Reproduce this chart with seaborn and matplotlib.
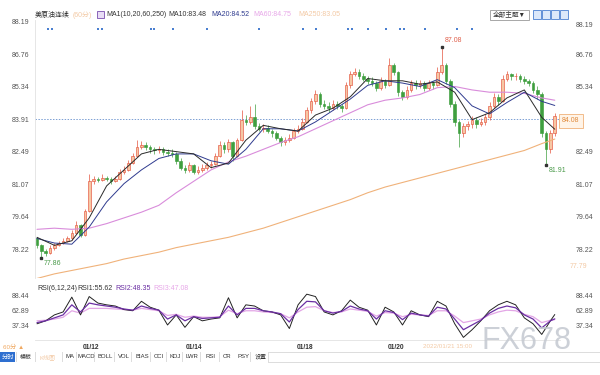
import numpy as np
import pandas as pd
import matplotlib
matplotlib.use("Agg")
import matplotlib.pyplot as plt
from matplotlib.patches import Rectangle
import seaborn as sns

# ---------------- data ----------------
opens = [78.70, 78.40, 78.15, 78.05, 78.30, 78.40, 78.50, 78.60, 78.70, 78.95,
         79.30, 78.85, 79.90, 81.20, 81.30, 81.25, 81.35, 81.30, 81.20, 81.30,
         81.60, 81.70, 82.00, 82.30, 82.70, 82.80, 82.70, 82.60, 82.55, 82.60,
         82.50, 82.45, 82.40, 82.10, 81.80, 81.70, 81.90, 81.60, 81.70, 81.80,
         81.90, 81.95, 82.30, 82.80, 82.60, 82.90, 82.30, 83.00, 83.90, 83.80,
         84.00, 83.60, 83.50, 83.55, 83.40, 83.30, 83.10, 82.90, 83.00, 83.10,
         83.40, 83.50, 83.80, 84.30, 84.70, 85.00, 84.60, 84.50, 84.40, 84.60,
         84.50, 84.40, 85.40, 85.90, 86.00, 85.80, 85.70, 85.60, 85.50, 85.30,
         85.60, 85.40, 86.30, 86.00, 85.10, 84.90, 85.20, 85.50, 85.40, 85.50,
         85.30, 85.50, 85.40, 86.00, 86.30, 85.60, 84.60, 83.80, 83.30, 83.60,
         83.70, 83.90, 83.70, 83.80, 84.00, 84.50, 84.90, 84.70, 85.70, 85.90,
         85.80, 85.80, 85.70, 85.60, 85.50, 85.20, 85.00, 83.30, 82.60, 83.30]
closes = [78.40, 78.15, 78.05, 78.30, 78.40, 78.50, 78.60, 78.70, 78.95, 79.30,
          78.85, 79.90, 81.20, 81.30, 81.25, 81.35, 81.30, 81.20, 81.30, 81.60,
          81.70, 82.00, 82.30, 82.70, 82.80, 82.70, 82.60, 82.55, 82.60, 82.50,
          82.45, 82.40, 82.10, 81.80, 81.70, 81.90, 81.60, 81.70, 81.80, 81.90,
          81.95, 82.30, 82.80, 82.60, 82.90, 82.30, 83.00, 83.90, 83.80, 84.00,
          83.60, 83.50, 83.55, 83.40, 83.30, 83.10, 82.90, 83.00, 83.10, 83.40,
          83.50, 83.80, 84.30, 84.70, 85.00, 84.60, 84.50, 84.40, 84.60, 84.50,
          84.40, 85.40, 85.90, 86.00, 85.80, 85.70, 85.60, 85.50, 85.30, 85.60,
          85.40, 86.30, 86.00, 85.10, 84.90, 85.20, 85.50, 85.40, 85.50, 85.30,
          85.50, 85.40, 86.00, 86.30, 85.60, 84.60, 83.80, 83.30, 83.60, 83.70,
          83.90, 83.70, 83.80, 84.00, 84.50, 84.90, 84.70, 85.70, 85.90, 85.80,
          85.80, 85.70, 85.60, 85.50, 85.20, 85.00, 83.30, 82.60, 83.30, 84.05]
highs = [78.75, 78.45, 78.25, 78.40, 78.50, 78.60, 78.70, 78.80, 79.05, 79.45,
         79.35, 80.00, 81.50, 81.45, 81.40, 81.50, 81.45, 81.40, 81.45, 81.75,
         81.85, 82.15, 82.45, 83.00, 82.95, 82.90, 82.80, 82.70, 82.75, 82.70,
         82.60, 82.60, 82.50, 82.20, 81.90, 82.05, 81.95, 81.85, 81.95, 82.05,
         82.10, 82.45, 82.95, 82.90, 83.05, 82.95, 83.10, 84.30, 84.10, 84.50,
         84.60, 83.75, 83.70, 83.65, 83.50, 83.40, 83.20, 83.15, 83.25, 83.55,
         83.65, 83.95, 84.45, 84.85, 85.20, 85.10, 84.75, 84.65, 84.75, 84.70,
         84.60, 85.55, 86.05, 86.15, 86.10, 85.95, 85.80, 85.75, 85.60, 85.75,
         85.70, 86.60, 86.40, 86.05, 85.20, 85.35, 85.65, 85.65, 85.65, 85.60,
         85.65, 85.60, 86.20, 87.08, 86.40, 85.70, 84.70, 83.90, 83.75, 83.85,
         84.05, 84.00, 83.95, 84.15, 84.65, 85.05, 85.00, 85.85, 86.05, 85.95,
         85.95, 85.90, 85.80, 85.70, 85.60, 85.35, 85.10, 83.40, 83.45, 84.20]
lows = [78.30, 77.86, 77.95, 78.00, 78.20, 78.35, 78.45, 78.55, 78.65, 78.90,
        78.75, 78.80, 79.85, 81.10, 81.15, 81.20, 81.20, 81.10, 81.15, 81.25,
        81.50, 81.65, 81.95, 82.25, 82.60, 82.55, 82.45, 82.40, 82.45, 82.35,
        82.30, 82.25, 81.95, 81.70, 81.55, 81.60, 81.50, 81.50, 81.60, 81.70,
        81.80, 81.90, 82.25, 82.45, 82.50, 82.10, 82.25, 82.95, 83.65, 83.70,
        83.50, 83.40, 83.35, 83.30, 83.15, 83.00, 82.75, 82.80, 82.90, 83.05,
        83.30, 83.45, 83.75, 84.20, 84.60, 84.45, 84.35, 84.25, 84.30, 84.35,
        84.25, 84.35, 85.30, 85.80, 85.70, 85.60, 85.45, 85.35, 85.15, 85.20,
        85.30, 85.35, 85.85, 84.95, 84.75, 84.80, 85.10, 85.25, 85.30, 85.15,
        85.20, 85.25, 85.35, 85.90, 85.45, 84.45, 83.60, 82.70, 83.15, 83.45,
        83.55, 83.55, 83.60, 83.65, 83.90, 84.40, 84.55, 84.65, 85.60, 85.65,
        85.65, 85.55, 85.45, 85.35, 85.05, 84.80, 83.15, 81.91, 82.45, 83.20]

ma_bar = [0, 4, 8, 12, 16, 20, 24, 28, 32, 36, 40, 44, 48, 52, 56, 60,
          64, 68, 72, 76, 80, 84, 88, 92, 96, 100, 104, 108, 112, 116, 119]
ma10 = [78.75, 78.40, 78.60, 79.60, 81.00, 81.70, 82.40, 82.60, 82.50, 82.40,
        81.80, 82.00, 83.00, 83.65, 83.50, 83.40, 84.10, 84.40, 84.90, 85.70,
        85.60, 85.60, 85.45, 85.55, 85.10, 83.90, 84.20, 84.85, 85.20, 84.00, 83.48]
ma20 = [78.70, 78.50, 78.45, 79.20, 80.30, 81.10, 81.70, 82.20, 82.40, 82.40,
        82.10, 81.95, 82.60, 83.50, 83.50, 83.40, 83.80, 84.30, 84.80, 85.40,
        85.60, 85.50, 85.35, 85.65, 85.30, 84.50, 84.15, 84.65, 85.10, 84.70, 84.52]
ma60 = [79.10, 79.15, 79.10, 79.15, 79.35, 79.60, 79.85, 80.15, 80.70, 81.20,
        81.70, 82.05, 82.30, 82.60, 82.90, 83.15, 83.50, 83.85, 84.20, 84.55,
        84.75, 84.85, 85.00, 85.30, 85.35, 85.20, 85.10, 85.10, 85.05, 84.85, 84.75]
ma250 = [76.95, 77.15, 77.30, 77.45, 77.60, 77.80, 77.95, 78.10, 78.30, 78.45,
         78.60, 78.75, 78.95, 79.15, 79.40, 79.65, 79.90, 80.15, 80.40, 80.70,
         80.95, 81.15, 81.35, 81.55, 81.75, 81.95, 82.15, 82.35, 82.55, 82.85, 83.05]

rsi_bar = list(range(0, 120, 2)) + [119]
rsi1 = [40, 45, 55, 60, 85, 55, 86, 75, 72, 70, 64, 62, 78, 68, 63, 38, 55, 34, 52, 45,
        48, 50, 84, 50, 72, 70, 62, 60, 55, 32, 72, 90, 86, 60, 55, 62, 80, 68, 63, 38,
        68, 60, 38, 62, 55, 52, 78, 70, 40, 17, 30, 45, 62, 72, 78, 72, 50, 40, 22, 45, 55.62]
rsi2 = [42, 45, 50, 55, 72, 60, 75, 72, 70, 68, 65, 63, 70, 66, 63, 48, 55, 45, 52, 49,
        50, 51, 70, 55, 66, 66, 62, 60, 57, 43, 64, 78, 77, 62, 58, 61, 70, 65, 62, 48,
        62, 59, 47, 58, 55, 53, 68, 65, 48, 30, 38, 46, 58, 66, 70, 67, 55, 48, 33, 45, 48.35]
rsi3 = [45, 46, 48, 51, 62, 58, 66, 66, 66, 65, 64, 63, 66, 64, 62, 54, 56, 51, 53, 51,
        51, 52, 63, 57, 62, 62, 60, 59, 57, 50, 60, 68, 69, 62, 59, 60, 65, 63, 61, 53,
        59, 58, 52, 56, 55, 54, 62, 62, 53, 42, 45, 48, 55, 60, 63, 62, 56, 52, 42, 46, 47.08]

price_ticks = [88.19, 86.76, 85.34, 83.91, 82.49, 81.07, 79.64, 78.22]
rsi_ticks = [88.44, 62.89, 37.34]
date_bars = [12.5, 36, 61.5, 82.5]
date_labels = ["01/12", "01/14", "01/18", "01/20"]
high_label, low_label, low2_label = "87.08", "77.86", "81.91"
last_price = "84.08"

# ---------------- style ----------------
sns.set_theme(style="white")
FAM = ["Liberation Sans", "Noto Sans CJK SC", "DejaVu Sans"]
plt.rcParams["font.family"] = FAM

W, H = 600, 375
fig = plt.figure(figsize=(6, 3.75), dpi=100)
fig.patch.set_facecolor("white")


def fx(x):
    return x / W


def fy(y):
    return 1 - y / H


def ftext(x, y, s, **kw):
    kw.setdefault("fontsize", 5)
    kw.setdefault("va", "center")
    kw.setdefault("ha", "left")
    kw.setdefault("family", FAM)
    fig.text(fx(x), fy(y), s, **kw)


def frect(x, y, w, h, **kw):
    fig.patches.append(Rectangle((fx(x), fy(y + h)), w / W, h / H,
                                 transform=fig.transFigure, figure=fig, **kw))


XL = (-0.46, 120.2)
ax = fig.add_axes([fx(35), fy(278), 525 / W, 258 / H])
axr = fig.add_axes([fx(35), fy(340), 525 / W, 56 / H])

UP_EDGE, UP_FILL, DOWN = "#e4553f", "#f6c7a4", "#3f9f3f"

idx = np.arange(len(closes))
o = np.array(opens)
c = np.array(closes)
h = np.array(highs)
l = np.array(lows)
up = c >= o
bb = np.minimum(o, c)
bh = np.maximum(np.abs(c - o), 0.03)

ax.vlines(idx[up], l[up], h[up], color=UP_EDGE, lw=0.5, zorder=2)
ax.vlines(idx[~up], l[~up], h[~up], color=DOWN, lw=0.5, zorder=2)
ax.bar(idx[up], bh[up], bottom=bb[up], width=0.6, color=UP_FILL,
       edgecolor=UP_EDGE, linewidth=0.45, zorder=3)
ax.bar(idx[~up], bh[~up], bottom=bb[~up], width=0.6, color=DOWN,
       edgecolor=DOWN, linewidth=0.45, zorder=3)

ma_df = pd.DataFrame({"bar": ma_bar, "ma10": ma10, "ma20": ma20,
                      "ma60": ma60, "ma250": ma250})
for col, colr, lw in [("ma250", "#f0b27a", 0.8), ("ma60", "#d98cdb", 0.8),
                      ("ma20", "#2f3b8f", 0.7), ("ma10", "#2a2a2a", 0.7)]:
    sns.lineplot(data=ma_df, x="bar", y=col, ax=ax, color=colr, lw=lw,
                 legend=False, zorder=4)

ax.axhline(price_ticks[3], color="#7b9fd4", lw=0.7, ls=(0, (1.5, 1.5)), zorder=1)

# extreme markers
ax.plot([93], [float(high_label)], marker="s", ms=1.5, color="#333333", zorder=5)
ax.text(93.8, float(high_label) + 0.12, high_label, color="#e0604c", fontsize=5,
        va="bottom", ha="left")
ax.plot([1], [float(low_label)], marker="s", ms=1.5, color="#333333", zorder=5)
ax.text(1.6, float(low_label) - 0.1, low_label, color="#4a9a4a", fontsize=5,
        va="top", ha="left")
ax.plot([117], [float(low2_label)], marker="s", ms=1.5, color="#333333", zorder=5)
ax.text(117.6, float(low2_label) - 0.08, low2_label, color="#4a9a4a", fontsize=5,
        va="top", ha="left")

ax.set_xlim(*XL)
ax.set_ylim(76.97, 88.26)
ax.set_yticks(price_ticks)
ax.set_yticklabels([f"{v:.2f}" for v in price_ticks])
ax.set_xticks([])
ax.set_xlabel("")
ax.set_ylabel("")
ax.tick_params(axis="y", length=0, labelsize=5, labelcolor="#555555",
               labelleft=True, labelright=True, pad=4)
for s in ["top", "right", "bottom"]:
    ax.spines[s].set_visible(False)
ax.spines["left"].set_color("#e2e2e2")
ax.spines["left"].set_linewidth(0.6)
for t in ax.yaxis.get_major_ticks():
    t.label2.set_x(1.02)
ax.yaxis.get_major_ticks()[3].label2.set_visible(False)
ax.yaxis.get_major_ticks()[0].label2.set_va("top")

# ---------------- RSI panel ----------------
rsi_df = pd.DataFrame({"bar": rsi_bar, "rsi1": rsi1, "rsi2": rsi2, "rsi3": rsi3})
for col, colr, lw in [("rsi3", "#e3a6e6", 0.9), ("rsi1", "#222222", 0.7),
                      ("rsi2", "#6b2fa3", 0.9)]:
    sns.lineplot(data=rsi_df, x="bar", y=col, ax=axr, color=colr, lw=lw, legend=False)
axr.set_xlim(*XL)
axr.set_ylim(12.6, 107.2)
axr.set_yticks(rsi_ticks)
axr.set_yticklabels([f"{v:.2f}" for v in rsi_ticks])
axr.set_xticks(date_bars)
axr.set_xticklabels(date_labels)
axr.set_xlabel("")
axr.set_ylabel("")
axr.tick_params(axis="y", length=0, labelsize=5, labelcolor="#555555",
                labelleft=True, labelright=True, pad=4)
axr.tick_params(axis="x", length=0, labelsize=4.8, labelcolor="#333333", pad=3)
for t in axr.get_xticklabels():
    t.set_fontweight("bold")
for s in ["top", "right", "left"]:
    axr.spines[s].set_visible(False)
axr.spines["bottom"].set_color("#e2e2e2")
axr.spines["bottom"].set_linewidth(0.6)
for t in axr.yaxis.get_major_ticks():
    t.label2.set_x(1.02)

# ---------------- header texts ----------------
ftext(35, 15, "美原油连续", color="#333333")
ftext(73, 15, "(60分)", color="#f3c9a4")
frect(97, 11, 7, 7, facecolor="#e8dcf5", edgecolor="#7a4fb0", lw=0.6)
ftext(106, 15, "MA1(10,20,60,250)", color="#333333")
ftext(168, 15, "MA10:83.48", color="#333333")
ftext(211, 15, "MA20:84.52", color="#2f3b8f")
ftext(253, 15, "MA60:84.75", color="#e7a7e8")
ftext(298, 15, "MA250:83.05", color="#f3c9a4")

frect(490, 10, 39, 10, facecolor="white", edgecolor="#999999", lw=0.6)
ftext(493, 15, "全部主题▼", color="#333333", fontsize=4.8)
for bx in [533, 542, 551, 560]:
    frect(bx, 10, 8, 9, facecolor="#dce8fa", edgecolor="#4a7fd0", lw=0.6)

dots_x = [48, 52, 98, 102, 151, 154, 173, 207, 259, 303, 316, 348, 352, 368,
          386, 400, 404, 425, 457, 472]
for dx in dots_x:
    frect(dx - 0.9, 28, 1.8, 1.8, facecolor="#4a7fd0", edgecolor="none")

# RSI header
ftext(37, 288, "RSI(6,12,24)", color="#333333")
ftext(77, 288, "RSI1:55.62", color="#333333")
ftext(115, 288, "RSI2:48.35", color="#6b2fa3")
ftext(153, 288, "RSI3:47.08", color="#e7a7e8")

# last price box and MA250 label on right
fig.text(fx(562), fy(121), last_price, fontsize=5, color="#e08a3c", va="center",
         ha="left", family=FAM, zorder=10,
         bbox=dict(boxstyle="square,pad=0.45", facecolor="#fff4e8",
                   edgecolor="#f0b27a", lw=0.6))
ftext(570, 267, "77.79", color="#f3c9a4")

# bottom texts
ftext(3, 347, "60分 ▲", color="#f0a860", fontsize=4.5)
ftext(423, 347, "2022/01/21 15:00", color="#f3c9a4", fontsize=4.5)

# toolbar
frect(0, 352, 15, 10, facecolor="#2e6fd0", edgecolor="none")
ftext(1.5, 357, "分时", color="white", fontsize=4.5)
tools = [(20, "模板", "#333333"), (40, "K线图", "#f3c9a4"), (66, "MA", "#333333"),
         (78, "MACD", "#333333"), (98, "BOLL", "#333333"), (118, "VOL", "#333333"),
         (135, "BIAS", "#333333"), (154, "CCI", "#333333"), (170, "KDJ", "#333333"),
         (185, "LWR", "#333333"), (205, "RSI", "#333333"), (223, "CR", "#333333"),
         (237, "PSY", "#333333"), (255, "设置", "#333333")]
for tx, lab, colr in tools:
    ftext(tx, 357, lab, color=colr, fontsize=4.3)
for bx in [16, 35, 62, 76, 94, 114, 131, 150, 166, 182, 200, 219, 233, 250, 268]:
    frect(bx, 352, 0.5, 10, facecolor="#dddddd", edgecolor="none")
frect(268, 352, 332, 0.5, facecolor="#dddddd", edgecolor="none")
frect(268, 362, 332, 0.5, facecolor="#dddddd", edgecolor="none")

# watermark
fig.text(fx(526), fy(341), "FX678", fontsize=22, color="#c3c8d0", alpha=0.85,
         ha="center", va="center", family=["Liberation Sans"])

fig.savefig("out.png", dpi=100)
